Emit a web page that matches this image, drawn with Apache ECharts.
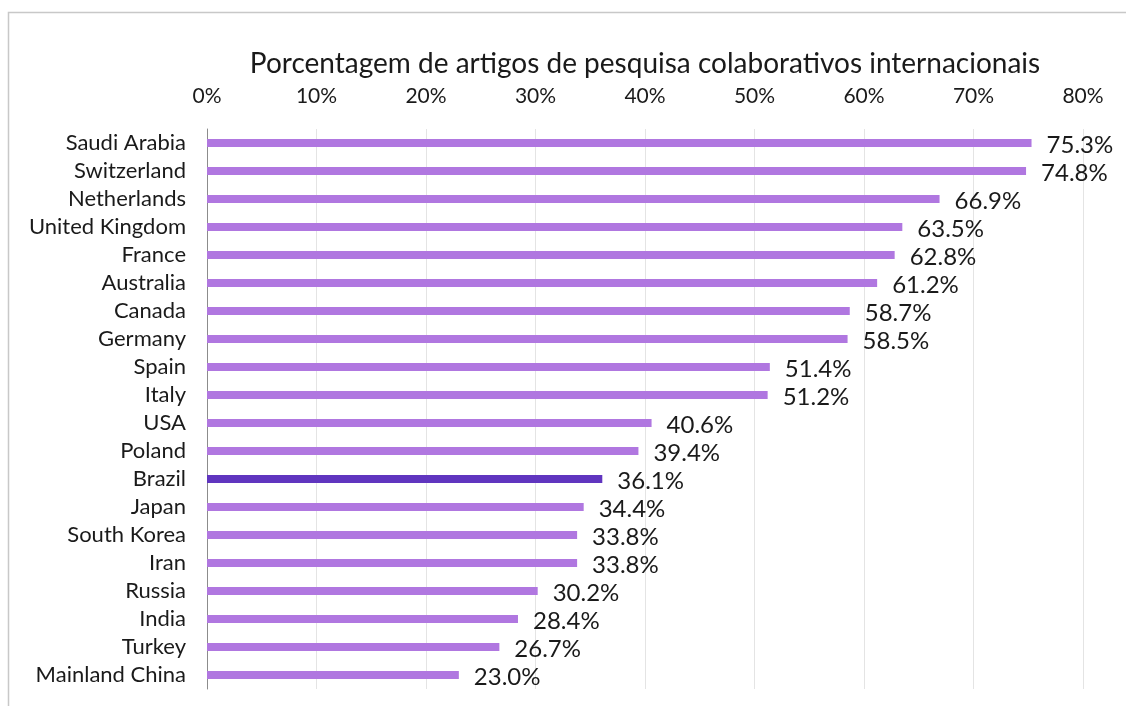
<!DOCTYPE html>
<html>
<head>
<meta charset="utf-8">
<style>
  html, body { margin: 0; padding: 0; background: #fff; }
  #chart { width: 1126px; height: 706px; }
</style>
<script src="https://cdn.jsdelivr.net/npm/echarts@6/dist/echarts.min.js"></script>
</head>
<body>
<div id="chart"></div>
<script>
// dados
const countries = ['Saudi Arabia', 'Switzerland', 'Netherlands', 'United Kingdom', 'France',
  'Australia', 'Canada', 'Germany', 'Spain', 'Italy', 'USA', 'Poland', 'Brazil', 'Japan',
  'South Korea', 'Iran', 'Russia', 'India', 'Turkey', 'Mainland China'];
const shares = [75.3, 74.8, 66.9, 63.5, 62.8, 61.2, 58.7, 58.5, 51.4, 51.2, 40.6, 39.4,
  36.1, 34.4, 33.8, 33.8, 30.2, 28.4, 26.7, 23.0];
const highlight = 'Brazil';
const axisTitle = 'Porcentagem de artigos de pesquisa colaborativos internacionais';

const chart = echarts.init(document.getElementById('chart'));

chart.setOption({
  backgroundColor: '#fff',
  textStyle: { fontFamily: 'Lato' },
  graphic: [{
    type: 'rect',
    shape: { x: 8.5, y: 12.5, width: 1200, height: 800 },
    style: { fill: 'none', stroke: '#c8c8c8', lineWidth: 1.5 },
    silent: true
  }],
  grid: { left: 207, right: 43, top: 129, bottom: 17 },
  xAxis: {
    type: 'value',
    position: 'top',
    min: 0,
    max: 80,
    interval: 10,
    name: axisTitle,
    nameLocation: 'middle',
    nameGap: 51,
    nameTextStyle: { fontSize: 28, color: '#1a1a1a', fontFamily: 'Lato' },
    axisLine: { show: false },
    axisTick: { show: false },
    axisLabel: { formatter: '{value}%', fontSize: 21, color: '#1a1a1a', margin: 22 },
    splitLine: { lineStyle: { color: '#e4e4e4', width: 1 } }
  },
  yAxis: {
    type: 'category',
    data: countries,
    inverse: true,
    axisLine: { lineStyle: { color: '#8c8c8c', width: 1 } },
    axisTick: { show: false },
    // rótulos um pouco acima do centro da barra, como no original
    axisLabel: { interval: 0, fontSize: 22, color: '#1a1a1a', margin: 21, padding: [0, 0, 8, 0] }
  },
  series: [{
    type: 'bar',
    barWidth: 8,
    data: shares.map((v, i) => ({
      value: v,
      itemStyle: { color: countries[i] === highlight ? '#6035bf' : '#b077e0' }
    })),
    label: {
      show: true,
      position: 'right',
      distance: 15,
      offset: [0, 2],
      formatter: p => p.value.toFixed(1) + '%',
      fontSize: 24,
      color: '#1a1a1a'
    },
    silent: true
  }],
  animation: false
});
</script>
</body>
</html>
